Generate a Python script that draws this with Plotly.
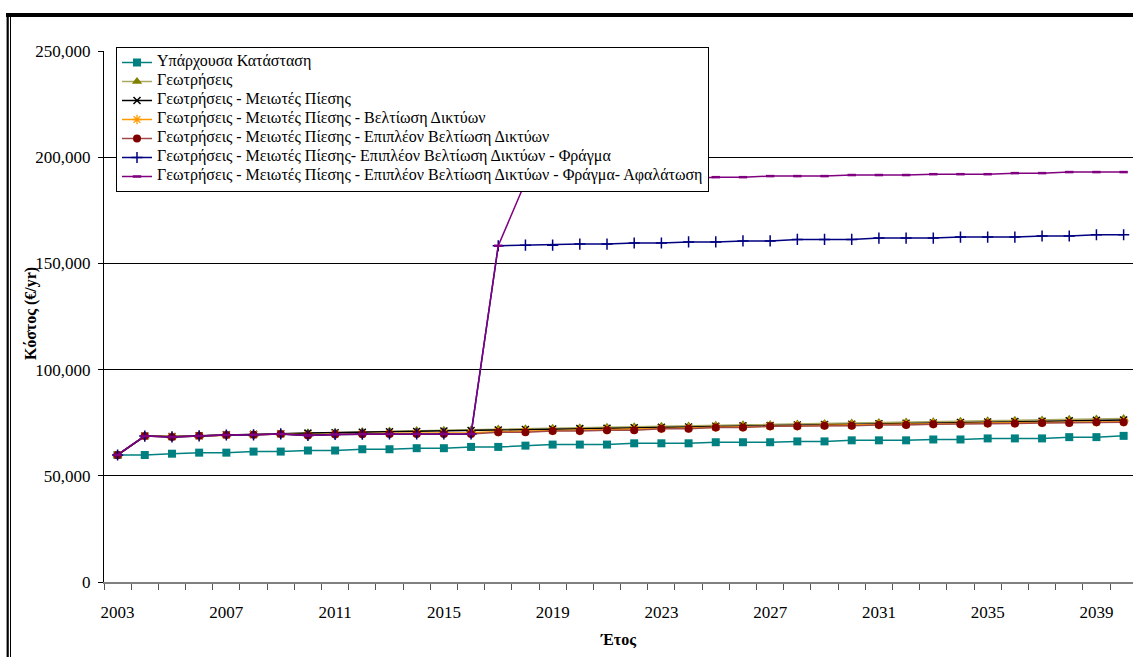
import plotly.graph_objects as go

years = list(range(2003, 2041))

existing = [59800, 59800, 60400, 60900, 60900, 61400, 61400, 61900, 61900, 62500,
            62500, 63000, 63000, 63600, 63600, 64200, 64700, 64700, 64700, 65300,
            65300, 65300, 65800, 65800, 65800, 66200, 66200, 66700, 66700, 66700,
            67100, 67100, 67600, 67600, 67600, 68200, 68200, 68800]

drilling = [59800, 68700, 68600, 68900, 69400, 69500, 69900, 70300, 70500, 70800,
            71100, 71300, 71500, 71700, 72000, 72200, 72400, 72600, 72900, 73100,
            73300, 73500, 73800, 74000, 74200, 74400, 74600, 74900, 75100, 75300,
            75500, 75700, 75900, 76100, 76300, 76600, 76800, 77000]

reducers = [59800, 68700, 68500, 68900, 69300, 69500, 69800, 70100, 70300, 70500,
            70700, 70900, 71100, 71300, 71600, 71800, 72000, 72200, 72400, 72600,
            72800, 73000, 73300, 73500, 73700, 73900, 74100, 74300, 74500, 74700,
            74900, 75100, 75300, 75500, 75700, 75900, 76100, 76300]

network = [59800, 68700, 68400, 68800, 69200, 69400, 69700, 69300, 69700, 69800,
           70000, 70100, 70200, 70300, 70800, 71000, 71300, 71400, 71800, 71900,
           72300, 72500, 72900, 73000, 73400, 73500, 73800, 73900, 74100, 74300,
           74500, 74600, 74800, 74900, 75100, 75200, 75400, 75500]

network_plus = [59800, 68700, 68300, 68800, 69200, 69300, 69700, 69000, 69500, 69600,
                69700, 69700, 69700, 69700, 70500, 70500, 71100, 71100, 71500, 71500,
                72100, 72100, 72700, 72700, 73300, 73300, 73600, 73600, 73900, 73900,
                74300, 74300, 74600, 74600, 74900, 74900, 75200, 75200]

dam = [59800, 68700, 68300, 68800, 69200, 69300, 69700, 69000, 69500, 69600,
       69700, 69700, 69700, 69700, 158300, 158600, 158600, 159100, 159100, 159600,
       159600, 160100, 160100, 160600, 160600, 161300, 161300, 161300, 161900, 161900,
       161900, 162400, 162400, 162400, 162900, 162900, 163500, 163500]

desal = [59800, 68700, 68300, 68800, 69200, 69300, 69700, 69000, 69500, 69600,
         69700, 69700, 69700, 69700, 158300, 188300, 188900, 188900, 189500, 189500,
         190000, 190000, 190600, 190600, 191100, 191100, 191100, 191600, 191600, 191600,
         192000, 192000, 192000, 192500, 192500, 193000, 193000, 193000]

names = [
    "Υπάρχουσα Κατάσταση",
    "Γεωτρήσεις",
    "Γεωτρήσεις - Μειωτές Πίεσης",
    "Γεωτρήσεις - Μειωτές Πίεσης - Βελτίωση Δικτύων",
    "Γεωτρήσεις - Μειωτές Πίεσης - Επιπλέον Βελτίωση Δικτύων",
    "Γεωτρήσεις - Μειωτές Πίεσης- Επιπλέον Βελτίωση Δικτύων - Φράγμα",
    "Γεωτρήσεις - Μειωτές Πίεσης - Επιπλέον Βελτίωση Δικτύων - Φράγμα- Αφαλάτωση",
]

x_tick_years = [2003, 2007, 2011, 2015, 2019, 2023, 2027, 2031, 2035, 2039]
y_ticks = [0, 50000, 100000, 150000, 200000, 250000]

SERIF = "Liberation Serif, Times New Roman, serif"

series = [existing, drilling, reducers, network, network_plus, dam, desal]
styles = [
    dict(line="#008080", marker="#008080", symbol="square", size=8, mline=0),
    dict(line="#a8a860", marker="#808000", symbol="triangle-up", size=9, mline=0),
    dict(line="#000000", marker="#000000", symbol="x-thin-open", size=7, mline=1.5),
    dict(line="#FF9900", marker="#FF9900", symbol="asterisk-open", size=8, mline=1.3),
    dict(line="#a04848", marker="#800000", symbol="circle", size=8, mline=0),
    dict(line="#000080", marker="#000080", symbol="cross-thin-open", size=8, mline=1.5),
    dict(line="#800080", marker="#800080", symbol="line-ew-open", size=6, mline=2.5),
]

fig = go.Figure()
for name, vals, st in zip(names, series, styles):
    fig.add_trace(go.Scatter(
        x=years, y=vals, mode="lines+markers",
        name='<span style="font-size:16px">' + name + '</span>',
        line=dict(color=st["line"], width=1.5),
        marker=dict(symbol=st["symbol"], size=st["size"], color=st["marker"],
                    line=dict(color=st["marker"], width=st["mline"])),
    ))

L, T, B = 104, 51, 75
W, H = 1133, 657
pw = W - L
ph = H - T - B


def px(xp):
    return (xp - L) / pw


def py(yp):
    return (H - B - yp) / ph


fig.update_layout(
    width=W, height=H,
    margin=dict(l=L, r=0, t=T, b=B, pad=0),
    paper_bgcolor="white", plot_bgcolor="white",
    font=dict(family=SERIF, size=17, color="black"),
    showlegend=True,
    legend=dict(
        x=px(116), y=py(47), xanchor="left", yanchor="top",
        bgcolor="white", bordercolor="black", borderwidth=1,
        font=dict(family=SERIF, size=10, color="black"),
        itemwidth=30, tracegroupgap=0,
    ),
    xaxis=dict(
        range=[2002.5, 2002.5 + pw / 27.19],
        tickmode="array", tickvals=x_tick_years,
        ticktext=[str(v) for v in x_tick_years],
        ticks="outside", ticklen=14, tickcolor="rgba(0,0,0,0)",
        showgrid=False, zeroline=False,
        showline=True, linecolor="#808080", linewidth=2,
        minor=dict(tickmode="array",
                   tickvals=[y - 0.5 for y in years] + [2040.5],
                   ticks="outside", ticklen=6, tickcolor="#555555", tickwidth=1,
                   showgrid=False),
        tickfont=dict(family=SERIF, size=17),
    ),
    yaxis=dict(
        range=[0, 250000], tickmode="array", tickvals=y_ticks,
        tickformat=",d",
        ticks="outside", ticklen=5, tickcolor="black",
        showgrid=True, gridcolor="black", gridwidth=1,
        zeroline=False, showline=True, linecolor="black", linewidth=1,
        ticklabelstandoff=4,
        tickfont=dict(family=SERIF, size=17),
    ),
    annotations=[
        dict(text="<b>Κόστος (€/yr)</b>", xref="paper", yref="paper",
             x=px(31), y=py(314), textangle=-90, showarrow=False,
             font=dict(family=SERIF, size=16, color="black"),
             xanchor="center", yanchor="middle"),
        dict(text="<b>Έτος</b>", xref="paper", yref="paper",
             x=px(618), y=py(640), showarrow=False,
             font=dict(family=SERIF, size=16, color="black"),
             xanchor="center", yanchor="middle"),
    ],
    shapes=[
        dict(type="line", xref="paper", yref="paper",
             x0=px(6), x1=px(1140), y0=py(15), y1=py(15),
             line=dict(color="black", width=4)),
        dict(type="line", xref="paper", yref="paper",
             x0=px(7.7), x1=px(7.7), y0=py(13), y1=py(670),
             line=dict(color="black", width=2.2)),
        dict(type="line", xref="paper", yref="paper",
             x0=px(10.5), x1=px(10.5), y0=py(15), y1=py(670),
             line=dict(color="black", width=1)),
    ],
)

fig.write_html("out.html")
